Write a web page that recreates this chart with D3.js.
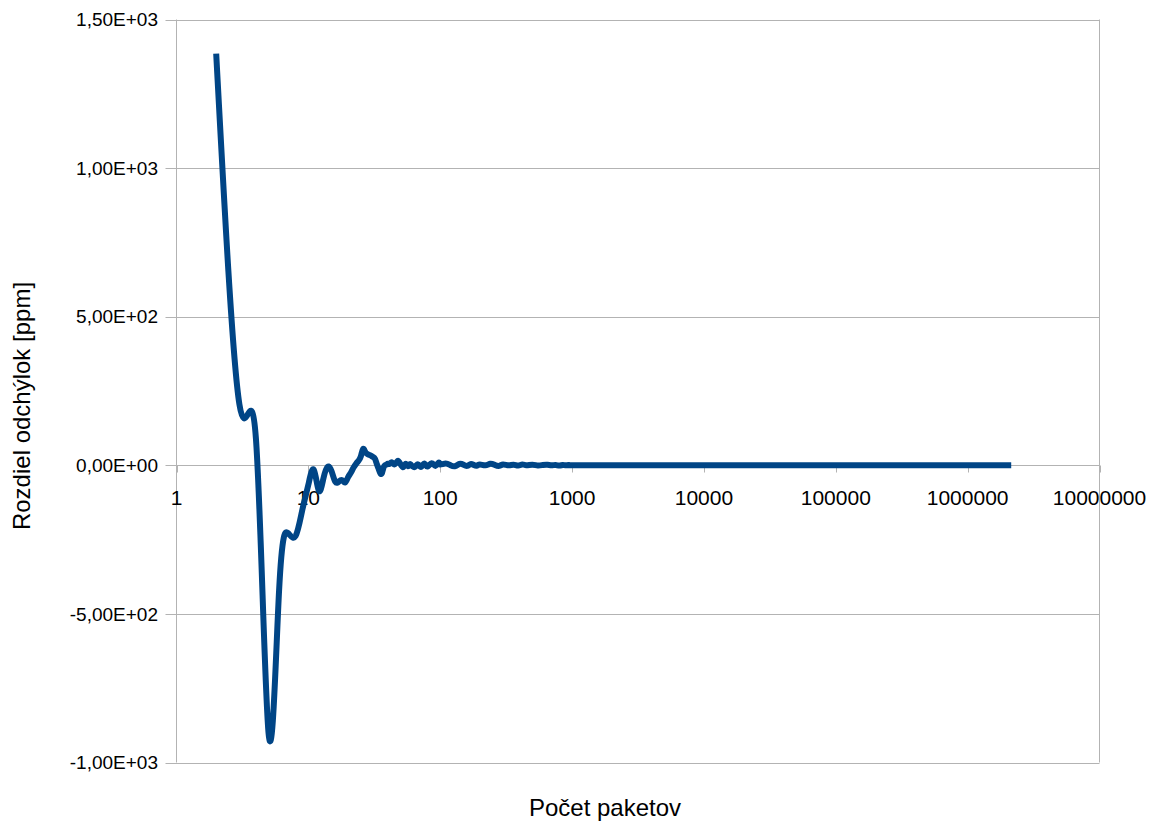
<!DOCTYPE html>
<html>
<head>
<meta charset="utf-8">
<script src="https://cdn.jsdelivr.net/npm/d3@7"></script>
<style>
  html, body { margin: 0; padding: 0; background: #ffffff; }
  svg { display: block; font-family: "Liberation Sans", Arial, sans-serif; }
</style>
</head>
<body>
<svg id="chart" width="1155" height="824"></svg>
<script>
// Packet counts (x) and deviation difference in ppm (y)
const packetCounts = [
  2, 3, 4, 5, 6, 7, 8, 9, 10,
  11, 12, 13, 14, 15, 16, 17, 18, 19, 20,
  21, 22, 23, 24, 25, 26, 27, 28, 29, 30,
  31, 32, 33, 34, 35, 36, 37, 38, 39, 40,
  41, 42, 43, 44, 45, 46, 47, 48, 49, 50,
  51, 52, 53, 54, 55, 56, 57, 58, 59, 60,
  62, 64, 66, 68, 70, 72, 74, 76, 78, 80,
  83, 86, 89, 92, 95, 98,
  100, 110, 120, 130, 140, 150, 160, 170, 180, 190,
  200, 220, 240, 260, 280, 300, 330, 360, 390, 420,
  450, 500, 550, 600, 650, 700, 750, 800, 850, 900, 950, 1000,
  2000, 5000, 10000, 50000, 100000, 500000, 1000000, 2140000
];
const deviationPpm = [
  1385, 205, 92, -905, -420, -228, -238, -150, -65,
  -15, -85, -45, -5, -20, -55, -55, -50, -58, -40,
  -25, -8, 5, 15, 30, 55, 45, 38, 35, 32,
  28, 22, 5, -10, -25, -28, -10, 0, 2, 5,
  4, 8, 10, 6, 3, 6, 12, 15, 10, 4,
  -2, -6, -4, 2, 5, 1, -3, 0, 4, 2,
  -4, -6, 0, 3, -3, -5, 2, 6, 0, -4,
  2, 7, 3, -2, 4, 9,
  3, 6, 0, -3, 5, 2, -2, 4, 1, -1,
  3, 0, 5, 1, -2, 3, 0, 2, -1, 3,
  0, 2, -1, 1, 2, 0, 1, -1, 1, 0, 1, 0,
  0, 0, 0, 0, 0, 0, 0, 0
];

// Axis settings
const yTicks = [-1000, -500, 0, 500, 1000, 1500];
const yTickLabels = ["-1,00E+03", "-5,00E+02", "0,00E+00", "5,00E+02", "1,00E+03", "1,50E+03"];
const xTicks = [1, 10, 100, 1000, 10000, 100000, 1000000, 10000000];
const xTickLabels = ["1", "10", "100", "1000", "10000", "100000", "1000000", "10000000"];
const xTitle = "Počet paketov";
const yTitle = "Rozdiel odchýlok [ppm]";

const svg = d3.select("#chart");
const plot = { left: 176.5, right: 1099.5, top: 19.5, bottom: 762.5 };

const x = d3.scaleLog().domain([1, 1e7]).range([plot.left, plot.right]);
const y = d3.scaleLinear().domain([-1000, 1500]).range([plot.bottom, plot.top]);

const gridColor = "#b3b3b3";

// Horizontal grid lines with outward ticks on the left
const grid = svg.append("g");
grid.selectAll("line.h")
  .data(yTicks)
  .join("line")
  .attr("x1", plot.left - 11)
  .attr("x2", plot.right)
  .attr("y1", d => Math.round(y(d)) + 0.5)
  .attr("y2", d => Math.round(y(d)) + 0.5)
  .attr("stroke", gridColor)
  .attr("stroke-width", 1);

// Plot frame sides
grid.append("line")
  .attr("x1", plot.left).attr("x2", plot.left)
  .attr("y1", plot.top).attr("y2", plot.bottom)
  .attr("stroke", gridColor);
grid.append("line")
  .attr("x1", plot.right).attr("x2", plot.right)
  .attr("y1", plot.top).attr("y2", plot.bottom)
  .attr("stroke", gridColor);

// Y axis labels
svg.append("g")
  .selectAll("text")
  .data(yTicks)
  .join("text")
  .attr("x", 158)
  .attr("y", d => y(d))
  .attr("dy", "0.35em")
  .attr("text-anchor", "end")
  .attr("font-size", 19)
  .attr("fill", "#000")
  .text((d, i) => yTickLabels[i]);

// X axis at y = 0 with downward ticks
const y0 = Math.round(y(0)) + 0.5;
const xAxisG = svg.append("g");
xAxisG.selectAll("line")
  .data(xTicks)
  .join("line")
  .attr("x1", d => Math.round(x(d)) + 0.5)
  .attr("x2", d => Math.round(x(d)) + 0.5)
  .attr("y1", y0)
  .attr("y2", y0 + 7)
  .attr("stroke", gridColor);
xAxisG.selectAll("text")
  .data(xTicks)
  .join("text")
  .attr("x", d => x(d))
  .attr("y", y0 + 39)
  .attr("text-anchor", "middle")
  .attr("font-size", 21)
  .attr("fill", "#000")
  .text((d, i) => xTickLabels[i]);

// Data line
const line = d3.line()
  .x(d => x(d[0]))
  .y(d => y(d[1]))
  .curve(d3.curveNatural);

svg.append("path")
  .datum(packetCounts.map((n, i) => [n, deviationPpm[i]]))
  .attr("d", line)
  .attr("fill", "none")
  .attr("stroke", "#004586")
  .attr("stroke-width", 6)
  .attr("stroke-linejoin", "round");

// Axis titles
svg.append("text")
  .attr("x", 605)
  .attr("y", 816)
  .attr("text-anchor", "middle")
  .attr("font-size", 24)
  .text(xTitle);

svg.append("text")
  .attr("transform", "translate(30,406) rotate(-90)")
  .attr("text-anchor", "middle")
  .attr("font-size", 24)
  .text(yTitle);
</script>
</body>
</html>
